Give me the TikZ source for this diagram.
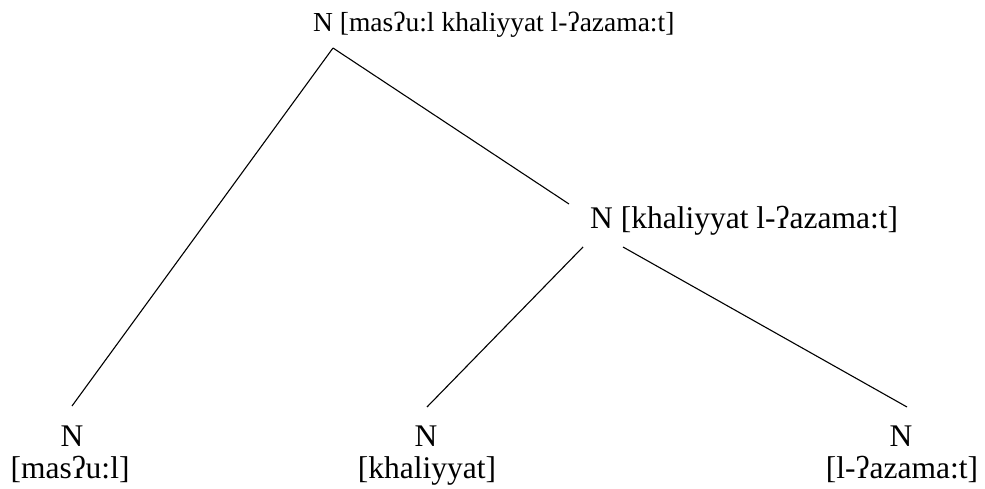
\documentclass[tikz,border=0pt]{standalone}
\usepackage{fontspec}
\setmainfont{Liberation Serif}
\begin{document}
\begin{tikzpicture}[x=1pt,y=-1pt,
  lbl/.style={inner sep=0pt,font=\fontsize{31.5}{34}\selectfont},
  toplbl/.style={inner sep=0pt,font=\fontsize{27.5}{30}\selectfont},
  edge/.style={line width=1.1pt}]
\useasboundingbox (0,0) rectangle (985,489);
% labels
\node[toplbl,anchor=base west] (root) at (313,32) {N [masʔu:l khaliyyat l-ʔazama:t]};
\node[lbl,anchor=base west] (mid) at (590,229) {N [khaliyyat l-ʔazama:t]};
\node[lbl,anchor=base] (l1n) at (72,446) {N};
\node[lbl,anchor=base] (l1) at (70,478) {[masʔu:l]};
\node[lbl,anchor=base] (l2n) at (426,446) {N};
\node[lbl,anchor=base] (l2) at (427,478) {[khaliyyat]};
\node[lbl,anchor=base] (l3n) at (901,446) {N};
\node[lbl,anchor=base] (l3) at (902,478) {[l-ʔazama:t]};
% connector ends
\coordinate (rootb) at (333,48);
\coordinate (midin) at (569,204);
\coordinate (midl) at (583,247);
\coordinate (midr) at (623,247);
\coordinate (l1t) at (72,406);
\coordinate (l2t) at (427,407);
\coordinate (l3t) at (907,407);
\draw[edge] (rootb) -- (l1t);
\draw[edge] (rootb) -- (midin);
\draw[edge] (midl) -- (l2t);
\draw[edge] (midr) -- (l3t);
\end{tikzpicture}
\end{document}
